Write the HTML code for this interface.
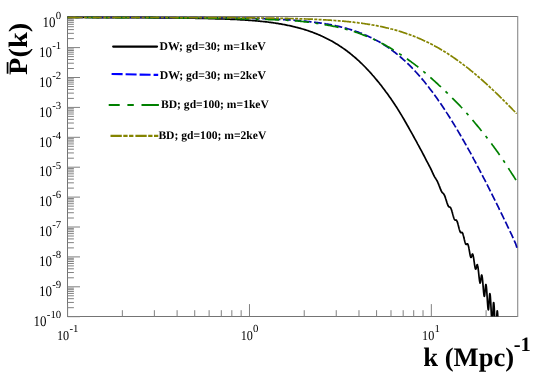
<!DOCTYPE html>
<html><head><meta charset="utf-8"><title>plot</title>
<style>
html,body{margin:0;padding:0;background:#fff;}
svg{display:block;will-change:transform;text-rendering:geometricPrecision;font-family:"Liberation Serif",serif;}
.lb{font-size:14.2px;fill:#000;}
.sp{font-size:10.8px;fill:#000;}
.lg{font-size:11.7px;font-weight:bold;fill:#000;}
.cv{fill:none;stroke-width:1.7;stroke-linejoin:round;}
</style></head><body>
<svg width="554" height="378" viewBox="0 0 554 378">
<rect width="554" height="378" fill="#fff"/>
<g style="filter:grayscale(0)">
<defs><clipPath id="c"><rect x="66.6" y="15.5" width="451.5" height="301.0"/></clipPath></defs>
<path d="M67.5,16H67.5V317M67,16.5H518M67,316.5H518" stroke="#747474" stroke-width="1" fill="none"/>
<path d="M517.7,16V317" stroke="#8e8e8e" stroke-width="1.15" fill="none"/>
<path d="M67.6,17.70h12.4M67.6,38.60h6.3M67.6,33.33h6.3M67.6,29.60h6.3M67.6,26.70h6.3M67.6,24.33h6.3M67.6,22.33h6.3M67.6,20.60h6.3M67.6,19.07h6.3M67.6,47.60h12.4M67.6,68.50h6.3M67.6,63.23h6.3M67.6,59.50h6.3M67.6,56.60h6.3M67.6,54.23h6.3M67.6,52.23h6.3M67.6,50.50h6.3M67.6,48.97h6.3M67.6,77.50h12.4M67.6,98.40h6.3M67.6,93.13h6.3M67.6,89.40h6.3M67.6,86.50h6.3M67.6,84.13h6.3M67.6,82.13h6.3M67.6,80.40h6.3M67.6,78.87h6.3M67.6,107.40h12.4M67.6,128.30h6.3M67.6,123.03h6.3M67.6,119.30h6.3M67.6,116.40h6.3M67.6,114.03h6.3M67.6,112.03h6.3M67.6,110.30h6.3M67.6,108.77h6.3M67.6,137.30h12.4M67.6,158.20h6.3M67.6,152.93h6.3M67.6,149.20h6.3M67.6,146.30h6.3M67.6,143.93h6.3M67.6,141.93h6.3M67.6,140.20h6.3M67.6,138.67h6.3M67.6,167.20h12.4M67.6,188.10h6.3M67.6,182.83h6.3M67.6,179.10h6.3M67.6,176.20h6.3M67.6,173.83h6.3M67.6,171.83h6.3M67.6,170.10h6.3M67.6,168.57h6.3M67.6,197.10h12.4M67.6,218.00h6.3M67.6,212.73h6.3M67.6,209.00h6.3M67.6,206.10h6.3M67.6,203.73h6.3M67.6,201.73h6.3M67.6,200.00h6.3M67.6,198.47h6.3M67.6,227.00h12.4M67.6,247.90h6.3M67.6,242.63h6.3M67.6,238.90h6.3M67.6,236.00h6.3M67.6,233.63h6.3M67.6,231.63h6.3M67.6,229.90h6.3M67.6,228.37h6.3M67.6,256.90h12.4M67.6,277.80h6.3M67.6,272.53h6.3M67.6,268.80h6.3M67.6,265.90h6.3M67.6,263.53h6.3M67.6,261.53h6.3M67.6,259.80h6.3M67.6,258.27h6.3M67.6,286.80h12.4M67.6,307.70h6.3M67.6,302.43h6.3M67.6,298.70h6.3M67.6,295.80h6.3M67.6,293.43h6.3M67.6,291.43h6.3M67.6,289.70h6.3M67.6,288.17h6.3M67.6,316.70h12.4M67.60,316.5v-12.4M122.35,316.5v-6.3M154.37,316.5v-6.3M177.10,316.5v-6.3M194.72,316.5v-6.3M209.12,316.5v-6.3M221.30,316.5v-6.3M231.84,316.5v-6.3M241.15,316.5v-6.3M249.47,316.5v-12.4M304.22,316.5v-6.3M336.24,316.5v-6.3M358.97,316.5v-6.3M376.59,316.5v-6.3M390.99,316.5v-6.3M403.17,316.5v-6.3M413.71,316.5v-6.3M423.02,316.5v-6.3M431.34,316.5v-12.4M486.09,316.5v-6.3" stroke="#808080" stroke-width="1" fill="none"/>
<g clip-path="url(#c)">
<path class="cv" stroke="#000" d="M67.6,17.5 L68.6,17.5 L69.6,17.5 L70.6,17.5 L71.6,17.5 L72.6,17.5 L73.6,17.5 L74.6,17.5 L75.6,17.5 L76.6,17.5 L77.6,17.5 L78.6,17.5 L79.6,17.5 L80.6,17.5 L81.6,17.5 L82.6,17.5 L83.6,17.5 L84.6,17.5 L85.6,17.5 L86.6,17.5 L87.6,17.5 L88.6,17.5 L89.6,17.5 L90.6,17.5 L91.6,17.5 L92.6,17.6 L93.6,17.6 L94.6,17.6 L95.6,17.6 L96.6,17.6 L97.6,17.6 L98.6,17.6 L99.6,17.6 L100.6,17.6 L101.6,17.6 L102.6,17.6 L103.6,17.6 L104.6,17.6 L105.6,17.6 L106.6,17.6 L107.6,17.6 L108.6,17.6 L109.6,17.6 L110.6,17.6 L111.6,17.6 L112.6,17.6 L113.6,17.6 L114.6,17.6 L115.6,17.6 L116.6,17.6 L117.6,17.6 L118.6,17.6 L119.6,17.6 L120.6,17.6 L121.6,17.6 L122.6,17.6 L123.6,17.6 L124.6,17.6 L125.6,17.6 L126.6,17.6 L127.6,17.6 L128.6,17.6 L129.6,17.6 L130.6,17.6 L131.6,17.6 L132.6,17.6 L133.6,17.6 L134.6,17.7 L135.6,17.7 L136.6,17.7 L137.6,17.7 L138.6,17.7 L139.6,17.7 L140.6,17.7 L141.6,17.7 L142.6,17.7 L143.6,17.7 L144.6,17.7 L145.6,17.7 L146.6,17.7 L147.6,17.7 L148.6,17.7 L149.6,17.7 L150.6,17.7 L151.6,17.7 L152.6,17.7 L153.6,17.8 L154.6,17.8 L155.6,17.8 L156.6,17.8 L157.6,17.8 L158.6,17.8 L159.6,17.8 L160.6,17.8 L161.6,17.8 L162.6,17.8 L163.6,17.8 L164.6,17.8 L165.6,17.8 L166.6,17.9 L167.6,17.9 L168.6,17.9 L169.6,17.9 L170.6,17.9 L171.6,17.9 L172.6,17.9 L173.6,17.9 L174.6,17.9 L175.6,18.0 L176.6,18.0 L177.6,18.0 L178.6,18.0 L179.6,18.0 L180.6,18.0 L181.6,18.0 L182.6,18.0 L183.6,18.1 L184.6,18.1 L185.6,18.1 L186.6,18.1 L187.6,18.1 L188.6,18.1 L189.6,18.2 L190.6,18.2 L191.6,18.2 L192.6,18.2 L193.6,18.2 L194.6,18.2 L195.6,18.3 L196.6,18.3 L197.6,18.3 L198.6,18.3 L199.6,18.4 L200.6,18.4 L201.6,18.4 L202.6,18.4 L203.6,18.4 L204.6,18.5 L205.6,18.5 L206.6,18.5 L207.6,18.5 L208.6,18.6 L209.6,18.6 L210.6,18.6 L211.6,18.6 L212.6,18.7 L213.6,18.7 L214.6,18.7 L215.6,18.8 L216.6,18.8 L217.6,18.8 L218.6,18.8 L219.6,18.9 L220.6,18.9 L221.6,18.9 L222.6,19.0 L223.6,19.0 L224.6,19.0 L225.6,19.1 L226.6,19.1 L227.6,19.2 L228.6,19.2 L229.6,19.2 L230.6,19.3 L231.6,19.3 L232.6,19.4 L233.6,19.4 L234.6,19.4 L235.6,19.5 L236.6,19.5 L237.6,19.6 L238.6,19.6 L239.6,19.7 L240.6,19.8 L241.6,19.8 L242.6,19.9 L243.6,19.9 L244.6,20.0 L245.6,20.1 L246.6,20.1 L247.6,20.2 L248.6,20.3 L249.6,20.3 L250.6,20.4 L251.6,20.5 L252.6,20.6 L253.6,20.6 L254.6,20.7 L255.6,20.8 L256.6,20.9 L257.6,21.0 L258.6,21.1 L259.6,21.2 L260.6,21.3 L261.6,21.4 L262.6,21.5 L263.6,21.6 L264.6,21.7 L265.6,21.8 L266.6,21.9 L267.6,22.0 L268.6,22.2 L269.6,22.3 L270.6,22.4 L271.6,22.6 L272.6,22.7 L273.6,22.8 L274.6,23.0 L275.6,23.1 L276.6,23.3 L277.6,23.4 L278.6,23.6 L279.6,23.8 L280.6,23.9 L281.6,24.1 L282.6,24.3 L283.6,24.5 L284.6,24.7 L285.6,24.9 L286.6,25.1 L287.6,25.3 L288.6,25.5 L289.6,25.7 L290.6,25.9 L291.6,26.1 L292.6,26.4 L293.6,26.6 L294.6,26.8 L295.6,27.1 L296.6,27.3 L297.6,27.6 L298.6,27.9 L299.6,28.1 L300.6,28.4 L301.6,28.7 L302.6,29.0 L303.6,29.3 L304.6,29.6 L305.6,29.9 L306.6,30.2 L307.6,30.5 L308.6,30.9 L309.6,31.2 L310.6,31.6 L311.6,31.9 L312.6,32.3 L313.6,32.7 L314.6,33.1 L315.6,33.5 L316.6,33.9 L317.6,34.3 L318.6,34.7 L319.6,35.1 L320.6,35.6 L321.6,36.0 L322.6,36.5 L323.6,36.9 L324.6,37.4 L325.6,37.9 L326.6,38.4 L327.6,38.9 L328.6,39.4 L329.6,40.0 L330.6,40.5 L331.6,41.0 L332.6,41.6 L333.6,42.2 L334.6,42.8 L335.6,43.4 L336.6,44.0 L337.6,44.6 L338.6,45.2 L339.6,45.9 L340.6,46.5 L341.6,47.2 L342.6,47.9 L343.6,48.6 L344.6,49.3 L345.6,50.0 L346.6,50.7 L347.6,51.5 L348.6,52.3 L349.6,53.0 L350.6,53.8 L351.6,54.6 L352.6,55.5 L353.6,56.3 L354.6,57.1 L355.6,58.0 L356.6,58.9 L357.6,59.8 L358.6,60.7 L359.6,61.6 L360.6,62.6 L361.6,63.5 L362.6,64.5 L363.6,65.5 L364.6,66.5 L365.6,67.5 L366.6,68.6 L367.6,69.6 L368.6,70.7 L369.6,71.8 L370.6,72.9 L371.6,74.0 L372.6,75.2 L373.6,76.3 L374.6,77.5 L375.6,78.7 L376.6,79.9 L377.6,81.1 L378.6,82.3 L379.6,83.6 L380.6,84.8 L381.6,86.1 L382.6,87.4 L383.6,88.7 L384.6,90.0 L385.6,91.4 L386.6,92.7 L387.6,94.1 L388.6,95.5 L389.6,96.9 L390.6,98.3 L391.6,99.8 L392.6,101.2 L393.6,102.7 L394.6,104.2 L395.6,105.8 L396.6,107.3 L397.6,108.9 L398.6,110.5 L399.6,112.1 L400.6,113.8 L401.6,115.4 L402.6,117.1 L403.6,118.8 L404.6,120.5 L405.6,122.3 L406.6,124.0 L407.6,125.8 L408.6,127.5 L409.6,129.3 L410.6,131.1 L411.6,132.9 L412.6,134.7 L413.6,136.5 L414.6,138.3 L415.6,140.1 L416.6,141.9 L417.6,143.8 L418.6,145.6 L419.6,147.5 L420.6,149.3 L421.6,151.2 L422.6,153.1 L423.6,155.0 L424.6,156.9 L425.6,158.8 L426.6,160.8 L427.6,162.7 L428.6,164.6 L429.6,166.5 L430.0,167.2 L430.1,167.4 L430.2,167.6 L430.3,167.8 L430.4,168.0 L430.5,168.2 L430.6,168.5 L430.7,168.7 L430.8,168.9 L430.9,169.1 L431.0,169.3 L431.1,169.5 L431.2,169.7 L431.3,169.9 L431.4,170.1 L431.5,170.4 L431.6,170.6 L431.7,170.8 L431.8,171.0 L431.9,171.2 L432.0,171.4 L432.1,171.7 L432.2,171.9 L432.3,172.1 L432.4,172.3 L432.5,172.5 L432.6,172.8 L432.7,173.0 L432.8,173.2 L432.9,173.4 L433.0,173.6 L433.1,173.9 L433.2,174.1 L433.3,174.3 L433.4,174.5 L433.5,174.7 L433.6,174.9 L433.7,175.1 L433.8,175.3 L433.9,175.5 L434.0,175.7 L434.1,175.9 L434.2,176.1 L434.3,176.3 L434.4,176.5 L434.5,176.7 L434.6,176.8 L434.7,177.0 L434.8,177.2 L434.9,177.3 L435.0,177.5 L435.1,177.6 L435.2,177.8 L435.3,177.9 L435.4,178.1 L435.5,178.2 L435.6,178.4 L435.7,178.5 L435.8,178.7 L435.9,178.8 L436.0,179.0 L436.1,179.2 L436.2,179.3 L436.3,179.5 L436.4,179.6 L436.5,179.8 L436.6,180.0 L436.7,180.1 L436.8,180.3 L436.9,180.5 L437.0,180.7 L437.1,180.9 L437.2,181.1 L437.3,181.3 L437.4,181.5 L437.5,181.7 L437.6,181.9 L437.7,182.1 L437.8,182.4 L437.9,182.6 L438.0,182.8 L438.1,183.1 L438.2,183.3 L438.3,183.5 L438.4,183.8 L438.5,184.0 L438.6,184.3 L438.7,184.5 L438.8,184.8 L438.9,185.0 L439.0,185.3 L439.1,185.6 L439.2,185.8 L439.3,186.1 L439.4,186.4 L439.5,186.6 L439.6,186.9 L439.7,187.2 L439.8,187.4 L439.9,187.7 L440.0,187.9 L440.1,188.2 L440.2,188.5 L440.3,188.7 L440.4,189.0 L440.5,189.2 L440.6,189.5 L440.7,189.7 L440.8,189.9 L440.9,190.2 L441.0,190.4 L441.1,190.6 L441.2,190.8 L441.3,191.0 L441.4,191.2 L441.5,191.4 L441.6,191.6 L441.7,191.8 L441.8,191.9 L441.9,192.1 L442.0,192.2 L442.1,192.3 L442.2,192.4 L442.3,192.6 L442.4,192.7 L442.5,192.8 L442.6,192.9 L442.7,193.0 L442.8,193.0 L442.9,193.1 L443.0,193.2 L443.1,193.3 L443.2,193.4 L443.3,193.5 L443.4,193.6 L443.5,193.7 L443.6,193.9 L443.7,194.0 L443.8,194.1 L443.9,194.3 L444.0,194.4 L444.1,194.6 L444.2,194.8 L444.3,195.0 L444.4,195.2 L444.5,195.4 L444.6,195.7 L444.7,195.9 L444.8,196.1 L444.9,196.4 L445.0,196.6 L445.1,196.9 L445.2,197.2 L445.3,197.5 L445.4,197.8 L445.5,198.0 L445.6,198.3 L445.7,198.7 L445.8,199.0 L445.9,199.3 L446.0,199.6 L446.1,199.9 L446.2,200.2 L446.3,200.6 L446.4,200.9 L446.5,201.2 L446.6,201.5 L446.7,201.8 L446.8,202.2 L446.9,202.5 L447.0,202.8 L447.1,203.1 L447.2,203.4 L447.3,203.7 L447.4,204.0 L447.5,204.2 L447.6,204.5 L447.7,204.8 L447.8,205.0 L447.9,205.2 L448.0,205.5 L448.1,205.7 L448.2,205.9 L448.3,206.1 L448.4,206.2 L448.5,206.3 L448.6,206.5 L448.7,206.6 L448.8,206.7 L448.9,206.7 L449.0,206.8 L449.1,206.8 L449.2,206.9 L449.3,206.9 L449.4,206.9 L449.5,207.0 L449.6,207.0 L449.7,207.0 L449.8,207.1 L449.9,207.1 L450.0,207.1 L450.1,207.2 L450.2,207.3 L450.3,207.4 L450.4,207.5 L450.5,207.6 L450.6,207.8 L450.7,207.9 L450.8,208.1 L450.9,208.4 L451.0,208.6 L451.1,208.8 L451.2,209.1 L451.3,209.3 L451.4,209.6 L451.5,209.9 L451.6,210.2 L451.7,210.5 L451.8,210.8 L451.9,211.2 L452.0,211.5 L452.1,211.8 L452.2,212.2 L452.3,212.6 L452.4,212.9 L452.5,213.3 L452.6,213.7 L452.7,214.0 L452.8,214.4 L452.9,214.8 L453.0,215.1 L453.1,215.5 L453.2,215.8 L453.3,216.2 L453.4,216.5 L453.5,216.8 L453.6,217.2 L453.7,217.5 L453.8,217.8 L453.9,218.0 L454.0,218.3 L454.1,218.6 L454.2,218.8 L454.3,219.1 L454.4,219.3 L454.5,219.4 L454.6,219.6 L454.7,219.7 L454.8,219.9 L454.9,219.9 L455.0,220.0 L455.1,220.1 L455.2,220.1 L455.3,220.1 L455.4,220.1 L455.5,220.1 L455.6,220.1 L455.7,220.1 L455.8,220.1 L455.9,220.1 L456.0,220.1 L456.1,220.1 L456.2,220.1 L456.3,220.2 L456.4,220.2 L456.5,220.3 L456.6,220.5 L456.7,220.6 L456.8,220.8 L456.9,221.0 L457.0,221.2 L457.1,221.4 L457.2,221.7 L457.3,222.0 L457.4,222.2 L457.5,222.6 L457.6,222.9 L457.7,223.2 L457.8,223.5 L457.9,223.9 L458.0,224.3 L458.1,224.6 L458.2,225.0 L458.3,225.4 L458.4,225.8 L458.5,226.2 L458.6,226.6 L458.7,227.0 L458.8,227.4 L458.9,227.8 L459.0,228.2 L459.1,228.5 L459.2,228.9 L459.3,229.3 L459.4,229.6 L459.5,230.0 L459.6,230.3 L459.7,230.6 L459.8,230.9 L459.9,231.2 L460.0,231.4 L460.1,231.7 L460.2,231.9 L460.3,232.1 L460.4,232.2 L460.5,232.4 L460.6,232.5 L460.7,232.5 L460.8,232.6 L460.9,232.6 L461.0,232.6 L461.1,232.6 L461.2,232.6 L461.3,232.5 L461.4,232.5 L461.5,232.5 L461.6,232.4 L461.7,232.4 L461.8,232.4 L461.9,232.4 L462.0,232.4 L462.1,232.5 L462.2,232.6 L462.3,232.7 L462.4,232.8 L462.5,233.0 L462.6,233.2 L462.7,233.5 L462.8,233.7 L462.9,234.0 L463.0,234.3 L463.1,234.6 L463.2,235.0 L463.3,235.3 L463.4,235.7 L463.5,236.0 L463.6,236.4 L463.7,236.8 L463.8,237.3 L463.9,237.7 L464.0,238.1 L464.1,238.5 L464.2,238.9 L464.3,239.4 L464.4,239.8 L464.5,240.2 L464.6,240.6 L464.7,241.0 L464.8,241.4 L464.9,241.8 L465.0,242.1 L465.1,242.5 L465.2,242.8 L465.3,243.1 L465.4,243.4 L465.5,243.6 L465.6,243.9 L465.7,244.1 L465.8,244.2 L465.9,244.4 L466.0,244.4 L466.1,244.5 L466.2,244.5 L466.3,244.5 L466.4,244.5 L466.5,244.4 L466.6,244.4 L466.7,244.3 L466.8,244.2 L466.9,244.1 L467.0,244.0 L467.1,243.9 L467.2,243.9 L467.3,243.8 L467.4,243.8 L467.5,243.9 L467.6,243.9 L467.7,244.0 L467.8,244.2 L467.9,244.4 L468.0,244.6 L468.1,244.9 L468.2,245.2 L468.3,245.5 L468.4,245.9 L468.5,246.3 L468.6,246.7 L468.7,247.1 L468.8,247.6 L468.9,248.1 L469.0,248.7 L469.1,249.2 L469.2,249.8 L469.3,250.3 L469.4,250.9 L469.5,251.5 L469.6,252.1 L469.7,252.7 L469.8,253.3 L469.9,253.8 L470.0,254.3 L470.1,254.8 L470.2,255.3 L470.3,255.8 L470.4,256.2 L470.5,256.5 L470.6,256.8 L470.7,257.1 L470.8,257.3 L470.9,257.4 L471.0,257.4 L471.1,257.4 L471.2,257.3 L471.3,257.1 L471.4,256.9 L471.5,256.6 L471.6,256.3 L471.7,255.9 L471.8,255.6 L471.9,255.3 L472.0,254.9 L472.1,254.7 L472.2,254.4 L472.3,254.2 L472.4,254.1 L472.5,254.0 L472.6,254.1 L472.7,254.2 L472.8,254.4 L472.9,254.7 L473.0,255.0 L473.1,255.4 L473.2,255.8 L473.3,256.3 L473.4,256.8 L473.5,257.3 L473.6,257.9 L473.7,258.6 L473.8,259.2 L473.9,259.9 L474.0,260.6 L474.1,261.3 L474.2,262.0 L474.3,262.7 L474.4,263.4 L474.5,264.1 L474.6,264.8 L474.7,265.4 L474.8,266.1 L474.9,266.6 L475.0,267.2 L475.1,267.6 L475.2,268.1 L475.3,268.4 L475.4,268.8 L475.5,269.0 L475.6,269.2 L475.7,269.2 L475.8,269.2 L475.9,269.0 L476.0,268.8 L476.1,268.5 L476.2,268.1 L476.3,267.7 L476.4,267.3 L476.5,266.8 L476.6,266.4 L476.7,265.9 L476.8,265.5 L476.9,265.2 L477.0,264.9 L477.1,264.7 L477.2,264.7 L477.3,264.7 L477.4,264.8 L477.5,265.1 L477.6,265.4 L477.7,265.9 L477.8,266.3 L477.9,266.9 L478.0,267.5 L478.1,268.2 L478.2,269.0 L478.3,269.8 L478.4,270.6 L478.5,271.5 L478.6,272.5 L478.7,273.4 L478.8,274.4 L478.9,275.3 L479.0,276.3 L479.1,277.2 L479.2,278.1 L479.3,278.9 L479.4,279.7 L479.5,280.5 L479.6,281.1 L479.7,281.7 L479.8,282.2 L479.9,282.6 L480.0,282.9 L480.1,283.1 L480.2,283.0 L480.3,282.8 L480.4,282.5 L480.5,282.0 L480.6,281.5 L480.7,280.8 L480.8,280.0 L480.9,279.2 L481.0,278.4 L481.1,277.7 L481.2,276.9 L481.3,276.3 L481.4,275.7 L481.5,275.3 L481.6,275.1 L481.7,275.0 L481.8,275.1 L481.9,275.4 L482.0,275.8 L482.1,276.3 L482.2,276.9 L482.3,277.6 L482.4,278.4 L482.5,279.3 L482.6,280.3 L482.7,281.4 L482.8,282.5 L482.9,283.7 L483.0,284.9 L483.1,286.1 L483.2,287.3 L483.3,288.5 L483.4,289.7 L483.5,290.8 L483.6,291.9 L483.7,292.8 L483.8,293.7 L483.9,294.5 L484.0,295.1 L484.1,295.7 L484.2,296.1 L484.3,296.3 L484.4,296.3 L484.5,296.0 L484.6,295.5 L484.7,294.9 L484.8,294.0 L484.9,293.0 L485.0,291.9 L485.1,290.7 L485.2,289.5 L485.3,288.4 L485.4,287.3 L485.5,286.4 L485.6,285.6 L485.7,285.0 L485.8,284.6 L485.9,284.5 L486.0,284.7 L486.1,285.0 L486.2,285.6 L486.3,286.2 L486.4,287.1 L486.5,288.1 L486.6,289.2 L486.7,290.4 L486.8,291.8 L486.9,293.2 L487.0,294.7 L487.1,296.3 L487.2,297.8 L487.3,299.4 L487.4,301.0 L487.5,302.4 L487.6,303.8 L487.7,305.2 L487.8,306.3 L487.9,307.4 L488.0,308.3 L488.1,309.0 L488.2,309.5 L488.3,309.8 L488.4,309.8 L488.5,309.5 L488.6,308.8 L488.7,307.8 L488.8,306.6 L488.9,305.2 L489.0,303.6 L489.1,302.0 L489.2,300.3 L489.3,298.7 L489.4,297.3 L489.5,296.0 L489.6,294.9 L489.7,294.2 L489.8,293.7 L489.9,293.7 L490.0,294.0 L490.1,294.5 L490.2,295.2 L490.3,296.2 L490.4,297.3 L490.5,298.7 L490.6,300.2 L490.7,301.9 L490.8,303.6 L490.9,305.5 L491.0,307.4 L491.1,309.4 L491.2,311.3 L491.3,313.2 L491.4,315.0 L491.5,316.7 L491.6,318.3 L491.7,319.6 L491.8,320.8 L491.9,321.8 L492.0,322.5 L492.1,322.9 L492.2,323.0 L492.3,322.6 L492.4,321.8 L492.5,320.6 L492.6,319.0 L492.7,317.2 L492.8,315.2 L492.9,313.0 L493.0,310.9 L493.1,308.8 L493.2,306.8 L493.3,305.2 L493.4,303.8 L493.5,302.9 L493.6,302.5 L493.7,302.5 L493.8,302.9 L493.9,303.6 L494.0,304.6 L494.1,305.9 L494.2,307.4 L494.3,309.2 L494.4,311.1 L494.5,313.2 L494.6,315.5 L494.7,317.8 L494.8,320.2 L494.9,322.5 L495.0,324.8 L495.1,327.0 L496.4,327.0 L496.5,324.4 L496.6,321.6 L496.7,319.0 L496.8,316.5 L496.9,314.3 L497.0,312.6 L497.1,311.4 L497.2,310.8 L497.3,310.8 L497.4,311.3 L497.5,312.2 L497.6,313.4 L497.7,315.0 L497.8,316.8 L497.9,319.0 L498.0,321.4 L498.1,324.0 L498.2,326.7 L500.2,327.2 L500.3,324.3 L500.4,321.9 L500.5,320.1 L500.6,319.0 L500.7,318.7 L500.8,319.1 L500.9,319.9 L501.0,321.2 L501.1,322.9 L501.2,325.0 L501.3,327.5 L503.8,328.0 L503.9,326.7 L504.0,326.3 L504.1,326.8 L504.2,327.8"/>
<path class="cv" stroke="#0505aa" stroke-dasharray="7.8 2.6" stroke-dashoffset="-7.53" d="M67.6,17.5 L68.6,17.5 L69.6,17.5 L70.6,17.5 L71.6,17.5 L72.6,17.5 L73.6,17.5 L74.6,17.5 L75.6,17.5 L76.6,17.5 L77.6,17.5 L78.6,17.5 L79.6,17.5 L80.6,17.5 L81.6,17.5 L82.6,17.5 L83.6,17.5 L84.6,17.5 L85.6,17.5 L86.6,17.5 L87.6,17.5 L88.6,17.5 L89.6,17.5 L90.6,17.5 L91.6,17.5 L92.6,17.5 L93.6,17.5 L94.6,17.5 L95.6,17.5 L96.6,17.5 L97.6,17.5 L98.6,17.5 L99.6,17.5 L100.6,17.5 L101.6,17.5 L102.6,17.5 L103.6,17.5 L104.6,17.5 L105.6,17.5 L106.6,17.5 L107.6,17.5 L108.6,17.5 L109.6,17.5 L110.6,17.5 L111.6,17.5 L112.6,17.5 L113.6,17.5 L114.6,17.5 L115.6,17.5 L116.6,17.5 L117.6,17.5 L118.6,17.5 L119.6,17.5 L120.6,17.5 L121.6,17.5 L122.6,17.5 L123.6,17.5 L124.6,17.5 L125.6,17.5 L126.6,17.5 L127.6,17.5 L128.6,17.5 L129.6,17.5 L130.6,17.5 L131.6,17.5 L132.6,17.5 L133.6,17.5 L134.6,17.5 L135.6,17.5 L136.6,17.5 L137.6,17.5 L138.6,17.5 L139.6,17.5 L140.6,17.5 L141.6,17.5 L142.6,17.5 L143.6,17.5 L144.6,17.5 L145.6,17.5 L146.6,17.6 L147.6,17.6 L148.6,17.6 L149.6,17.6 L150.6,17.6 L151.6,17.6 L152.6,17.6 L153.6,17.6 L154.6,17.6 L155.6,17.6 L156.6,17.6 L157.6,17.6 L158.6,17.6 L159.6,17.6 L160.6,17.6 L161.6,17.6 L162.6,17.6 L163.6,17.6 L164.6,17.6 L165.6,17.6 L166.6,17.6 L167.6,17.6 L168.6,17.6 L169.6,17.6 L170.6,17.6 L171.6,17.6 L172.6,17.6 L173.6,17.6 L174.6,17.6 L175.6,17.6 L176.6,17.6 L177.6,17.6 L178.6,17.6 L179.6,17.6 L180.6,17.6 L181.6,17.6 L182.6,17.6 L183.6,17.6 L184.6,17.6 L185.6,17.6 L186.6,17.7 L187.6,17.7 L188.6,17.7 L189.6,17.7 L190.6,17.7 L191.6,17.7 L192.6,17.7 L193.6,17.7 L194.6,17.7 L195.6,17.7 L196.6,17.7 L197.6,17.7 L198.6,17.7 L199.6,17.7 L200.6,17.7 L201.6,17.7 L202.6,17.7 L203.6,17.7 L204.6,17.7 L205.6,17.8 L206.6,17.8 L207.6,17.8 L208.6,17.8 L209.6,17.8 L210.6,17.8 L211.6,17.8 L212.6,17.8 L213.6,17.8 L214.6,17.8 L215.6,17.8 L216.6,17.8 L217.6,17.9 L218.6,17.9 L219.6,17.9 L220.6,17.9 L221.6,17.9 L222.6,17.9 L223.6,17.9 L224.6,17.9 L225.6,17.9 L226.6,17.9 L227.6,18.0 L228.6,18.0 L229.6,18.0 L230.6,18.0 L231.6,18.0 L232.6,18.0 L233.6,18.0 L234.6,18.1 L235.6,18.1 L236.6,18.1 L237.6,18.1 L238.6,18.1 L239.6,18.1 L240.6,18.2 L241.6,18.2 L242.6,18.2 L243.6,18.2 L244.6,18.2 L245.6,18.2 L246.6,18.3 L247.6,18.3 L248.6,18.3 L249.6,18.3 L250.6,18.4 L251.6,18.4 L252.6,18.4 L253.6,18.4 L254.6,18.5 L255.6,18.5 L256.6,18.5 L257.6,18.5 L258.6,18.6 L259.6,18.6 L260.6,18.6 L261.6,18.7 L262.6,18.7 L263.6,18.7 L264.6,18.7 L265.6,18.8 L266.6,18.8 L267.6,18.9 L268.6,18.9 L269.6,18.9 L270.6,19.0 L271.6,19.0 L272.6,19.0 L273.6,19.1 L274.6,19.1 L275.6,19.2 L276.6,19.2 L277.6,19.3 L278.6,19.3 L279.6,19.4 L280.6,19.4 L281.6,19.5 L282.6,19.5 L283.6,19.6 L284.6,19.6 L285.6,19.7 L286.6,19.8 L287.6,19.8 L288.6,19.9 L289.6,19.9 L290.6,20.0 L291.6,20.1 L292.6,20.2 L293.6,20.2 L294.6,20.3 L295.6,20.4 L296.6,20.4 L297.6,20.5 L298.6,20.6 L299.6,20.7 L300.6,20.8 L301.6,20.9 L302.6,21.0 L303.6,21.1 L304.6,21.1 L305.6,21.2 L306.6,21.3 L307.6,21.5 L308.6,21.6 L309.6,21.7 L310.6,21.8 L311.6,21.9 L312.6,22.0 L313.6,22.1 L314.6,22.3 L315.6,22.4 L316.6,22.5 L317.6,22.6 L318.6,22.8 L319.6,22.9 L320.6,23.1 L321.6,23.2 L322.6,23.4 L323.6,23.5 L324.6,23.7 L325.6,23.9 L326.6,24.0 L327.6,24.2 L328.6,24.4 L329.6,24.6 L330.6,24.7 L331.6,24.9 L332.6,25.1 L333.6,25.3 L334.6,25.5 L335.6,25.7 L336.6,26.0 L337.6,26.2 L338.6,26.4 L339.6,26.6 L340.6,26.9 L341.6,27.1 L342.6,27.4 L343.6,27.6 L344.6,27.9 L345.6,28.2 L346.6,28.4 L347.6,28.7 L348.6,29.0 L349.6,29.3 L350.6,29.6 L351.6,29.9 L352.6,30.2 L353.6,30.6 L354.6,30.9 L355.6,31.2 L356.6,31.6 L357.6,31.9 L358.6,32.3 L359.6,32.7 L360.6,33.0 L361.6,33.4 L362.6,33.8 L363.6,34.2 L364.6,34.7 L365.6,35.1 L366.6,35.5 L367.6,36.0 L368.6,36.4 L369.6,36.9 L370.6,37.4 L371.6,37.8 L372.6,38.3 L373.6,38.8 L374.6,39.4 L375.6,39.9 L376.6,40.4 L377.6,41.0 L378.6,41.5 L379.6,42.1 L380.6,42.7 L381.6,43.3 L382.6,43.9 L383.6,44.5 L384.6,45.2 L385.6,45.8 L386.6,46.5 L387.6,47.1 L388.6,47.8 L389.6,48.5 L390.6,49.2 L391.6,50.0 L392.6,50.7 L393.6,51.5 L394.6,52.2 L395.6,53.0 L396.6,53.8 L397.6,54.6 L398.6,55.4 L399.6,56.3 L400.6,57.1 L401.6,58.0 L402.6,58.9 L403.6,59.8 L404.6,60.7 L405.6,61.6 L406.6,62.5 L407.6,63.5 L408.6,64.4 L409.6,65.4 L410.6,66.4 L411.6,67.4 L412.6,68.5 L413.6,69.5 L414.6,70.6 L415.6,71.7 L416.6,72.8 L417.6,73.9 L418.6,75.0 L419.6,76.1 L420.6,77.3 L421.6,78.4 L422.6,79.6 L423.6,80.8 L424.6,82.0 L425.6,83.3 L426.6,84.5 L427.6,85.8 L428.6,87.1 L429.6,88.4 L430.6,89.7 L431.6,91.0 L432.6,92.3 L433.6,93.7 L434.6,95.0 L435.6,96.4 L436.6,97.8 L437.6,99.2 L438.6,100.7 L439.6,102.1 L440.6,103.6 L441.6,105.0 L442.6,106.5 L443.6,108.0 L444.6,109.5 L445.6,111.0 L446.6,112.6 L447.6,114.1 L448.6,115.7 L449.6,117.3 L450.6,118.9 L451.6,120.5 L452.6,122.1 L453.6,123.7 L454.6,125.4 L455.6,127.0 L456.6,128.7 L457.6,130.4 L458.6,132.1 L459.6,133.8 L460.6,135.5 L461.6,137.2 L462.6,139.0 L463.6,140.7 L464.6,142.5 L465.6,144.2 L466.6,146.0 L467.6,147.8 L468.6,149.6 L469.6,151.4 L470.6,153.2 L471.6,155.1 L472.6,156.9 L473.6,158.8 L474.6,160.6 L475.6,162.5 L476.6,164.4 L477.6,166.3 L478.6,168.2 L479.6,170.1 L480.6,172.0 L481.6,173.9 L482.6,175.8 L483.6,177.8 L484.6,179.7 L485.6,181.7 L486.6,183.6 L487.6,185.6 L488.6,187.6 L489.6,189.6 L490.6,191.6 L491.6,193.6 L492.6,195.6 L493.6,197.6 L494.6,199.6 L495.6,201.6 L496.6,203.6 L497.6,205.7 L498.6,207.7 L499.6,209.8 L500.6,211.8 L501.6,213.9 L502.6,215.9 L503.6,218.0 L504.6,220.1 L505.6,222.2 L506.6,224.2 L507.6,226.3 L508.6,228.4 L509.6,230.5 L510.6,232.6 L511.6,234.7 L512.6,236.9 L513.6,239.0 L514.6,241.3 L515.6,243.6 L516.6,246.7 L517.4,249.6"/>
<path class="cv" stroke="#008000" stroke-dasharray="14.2 6.4 3 6.4" stroke-dashoffset="-17.47" d="M67.6,17.5 L68.6,17.5 L69.6,17.5 L70.6,17.5 L71.6,17.5 L72.6,17.5 L73.6,17.5 L74.6,17.5 L75.6,17.5 L76.6,17.5 L77.6,17.5 L78.6,17.5 L79.6,17.5 L80.6,17.5 L81.6,17.5 L82.6,17.5 L83.6,17.5 L84.6,17.5 L85.6,17.5 L86.6,17.5 L87.6,17.5 L88.6,17.5 L89.6,17.5 L90.6,17.5 L91.6,17.5 L92.6,17.5 L93.6,17.5 L94.6,17.5 L95.6,17.5 L96.6,17.5 L97.6,17.6 L98.6,17.6 L99.6,17.6 L100.6,17.6 L101.6,17.6 L102.6,17.6 L103.6,17.6 L104.6,17.6 L105.6,17.6 L106.6,17.6 L107.6,17.6 L108.6,17.6 L109.6,17.6 L110.6,17.6 L111.6,17.6 L112.6,17.6 L113.6,17.6 L114.6,17.6 L115.6,17.6 L116.6,17.6 L117.6,17.6 L118.6,17.6 L119.6,17.6 L120.6,17.6 L121.6,17.6 L122.6,17.6 L123.6,17.6 L124.6,17.6 L125.6,17.6 L126.6,17.6 L127.6,17.6 L128.6,17.6 L129.6,17.6 L130.6,17.6 L131.6,17.6 L132.6,17.6 L133.6,17.6 L134.6,17.6 L135.6,17.6 L136.6,17.6 L137.6,17.6 L138.6,17.6 L139.6,17.6 L140.6,17.6 L141.6,17.6 L142.6,17.6 L143.6,17.6 L144.6,17.6 L145.6,17.7 L146.6,17.7 L147.6,17.7 L148.6,17.7 L149.6,17.7 L150.6,17.7 L151.6,17.7 L152.6,17.7 L153.6,17.7 L154.6,17.7 L155.6,17.7 L156.6,17.7 L157.6,17.7 L158.6,17.7 L159.6,17.7 L160.6,17.7 L161.6,17.7 L162.6,17.7 L163.6,17.7 L164.6,17.7 L165.6,17.7 L166.6,17.7 L167.6,17.7 L168.6,17.8 L169.6,17.8 L170.6,17.8 L171.6,17.8 L172.6,17.8 L173.6,17.8 L174.6,17.8 L175.6,17.8 L176.6,17.8 L177.6,17.8 L178.6,17.8 L179.6,17.8 L180.6,17.8 L181.6,17.8 L182.6,17.8 L183.6,17.9 L184.6,17.9 L185.6,17.9 L186.6,17.9 L187.6,17.9 L188.6,17.9 L189.6,17.9 L190.6,17.9 L191.6,17.9 L192.6,17.9 L193.6,17.9 L194.6,18.0 L195.6,18.0 L196.6,18.0 L197.6,18.0 L198.6,18.0 L199.6,18.0 L200.6,18.0 L201.6,18.0 L202.6,18.0 L203.6,18.1 L204.6,18.1 L205.6,18.1 L206.6,18.1 L207.6,18.1 L208.6,18.1 L209.6,18.1 L210.6,18.2 L211.6,18.2 L212.6,18.2 L213.6,18.2 L214.6,18.2 L215.6,18.2 L216.6,18.2 L217.6,18.3 L218.6,18.3 L219.6,18.3 L220.6,18.3 L221.6,18.3 L222.6,18.4 L223.6,18.4 L224.6,18.4 L225.6,18.4 L226.6,18.4 L227.6,18.5 L228.6,18.5 L229.6,18.5 L230.6,18.5 L231.6,18.5 L232.6,18.6 L233.6,18.6 L234.6,18.6 L235.6,18.6 L236.6,18.7 L237.6,18.7 L238.6,18.7 L239.6,18.7 L240.6,18.8 L241.6,18.8 L242.6,18.8 L243.6,18.9 L244.6,18.9 L245.6,18.9 L246.6,19.0 L247.6,19.0 L248.6,19.0 L249.6,19.1 L250.6,19.1 L251.6,19.1 L252.6,19.2 L253.6,19.2 L254.6,19.2 L255.6,19.2 L256.6,19.3 L257.6,19.3 L258.6,19.3 L259.6,19.4 L260.6,19.4 L261.6,19.4 L262.6,19.4 L263.6,19.5 L264.6,19.5 L265.6,19.5 L266.6,19.5 L267.6,19.5 L268.6,19.6 L269.6,19.6 L270.6,19.6 L271.6,19.6 L272.6,19.7 L273.6,19.7 L274.6,19.7 L275.6,19.8 L276.6,19.8 L277.6,19.8 L278.6,19.9 L279.6,19.9 L280.6,19.9 L281.6,20.0 L282.6,20.0 L283.6,20.1 L284.6,20.1 L285.6,20.2 L286.6,20.2 L287.6,20.3 L288.6,20.3 L289.6,20.4 L290.6,20.5 L291.6,20.5 L292.6,20.6 L293.6,20.7 L294.6,20.8 L295.6,20.8 L296.6,20.9 L297.6,21.0 L298.6,21.1 L299.6,21.2 L300.6,21.3 L301.6,21.4 L302.6,21.5 L303.6,21.6 L304.6,21.8 L305.6,21.9 L306.6,22.0 L307.6,22.1 L308.6,22.2 L309.6,22.4 L310.6,22.5 L311.6,22.6 L312.6,22.8 L313.6,22.9 L314.6,23.0 L315.6,23.2 L316.6,23.3 L317.6,23.5 L318.6,23.6 L319.6,23.8 L320.6,23.9 L321.6,24.1 L322.6,24.3 L323.6,24.4 L324.6,24.6 L325.6,24.8 L326.6,24.9 L327.6,25.1 L328.6,25.3 L329.6,25.5 L330.6,25.7 L331.6,25.9 L332.6,26.1 L333.6,26.3 L334.6,26.5 L335.6,26.7 L336.6,26.9 L337.6,27.1 L338.6,27.4 L339.6,27.6 L340.6,27.8 L341.6,28.1 L342.6,28.3 L343.6,28.6 L344.6,28.8 L345.6,29.1 L346.6,29.4 L347.6,29.7 L348.6,29.9 L349.6,30.2 L350.6,30.5 L351.6,30.8 L352.6,31.2 L353.6,31.5 L354.6,31.8 L355.6,32.1 L356.6,32.5 L357.6,32.8 L358.6,33.2 L359.6,33.5 L360.6,33.9 L361.6,34.3 L362.6,34.7 L363.6,35.1 L364.6,35.5 L365.6,35.9 L366.6,36.3 L367.6,36.7 L368.6,37.1 L369.6,37.5 L370.6,38.0 L371.6,38.4 L372.6,38.8 L373.6,39.3 L374.6,39.8 L375.6,40.2 L376.6,40.7 L377.6,41.2 L378.6,41.7 L379.6,42.2 L380.6,42.7 L381.6,43.2 L382.6,43.7 L383.6,44.2 L384.6,44.8 L385.6,45.3 L386.6,45.9 L387.6,46.5 L388.6,47.0 L389.6,47.6 L390.6,48.2 L391.6,48.8 L392.6,49.4 L393.6,50.1 L394.6,50.7 L395.6,51.3 L396.6,51.9 L397.6,52.6 L398.6,53.2 L399.6,53.9 L400.6,54.5 L401.6,55.2 L402.6,55.9 L403.6,56.5 L404.6,57.2 L405.6,57.9 L406.6,58.6 L407.6,59.3 L408.6,60.0 L409.6,60.7 L410.6,61.4 L411.6,62.2 L412.6,62.9 L413.6,63.6 L414.6,64.4 L415.6,65.2 L416.6,65.9 L417.6,66.7 L418.6,67.5 L419.6,68.3 L420.6,69.1 L421.6,69.9 L422.6,70.8 L423.6,71.6 L424.6,72.4 L425.6,73.3 L426.6,74.1 L427.6,75.0 L428.6,75.9 L429.6,76.7 L430.6,77.6 L431.6,78.5 L432.6,79.4 L433.6,80.3 L434.6,81.2 L435.6,82.1 L436.6,83.0 L437.6,83.9 L438.6,84.9 L439.6,85.8 L440.6,86.7 L441.6,87.7 L442.6,88.6 L443.6,89.6 L444.6,90.5 L445.6,91.5 L446.6,92.4 L447.6,93.4 L448.6,94.4 L449.6,95.4 L450.6,96.4 L451.6,97.4 L452.6,98.4 L453.6,99.4 L454.6,100.4 L455.6,101.4 L456.6,102.4 L457.6,103.4 L458.6,104.4 L459.6,105.4 L460.6,106.5 L461.6,107.5 L462.6,108.6 L463.6,109.7 L464.6,110.8 L465.6,111.9 L466.6,113.1 L467.6,114.2 L468.6,115.4 L469.6,116.5 L470.6,117.7 L471.6,118.9 L472.6,120.1 L473.6,121.3 L474.6,122.5 L475.6,123.7 L476.6,124.9 L477.6,126.1 L478.6,127.3 L479.6,128.5 L480.6,129.8 L481.6,131.0 L482.6,132.3 L483.6,133.5 L484.6,134.8 L485.6,136.0 L486.6,137.3 L487.6,138.6 L488.6,139.9 L489.6,141.2 L490.6,142.5 L491.6,143.8 L492.6,145.2 L493.6,146.5 L494.6,147.9 L495.6,149.3 L496.6,150.7 L497.6,152.1 L498.6,153.5 L499.6,154.9 L500.6,156.3 L501.6,157.8 L502.6,159.3 L503.6,160.8 L504.6,162.3 L505.6,163.9 L506.6,165.4 L507.6,167.0 L508.6,168.5 L509.6,170.1 L510.6,171.6 L511.6,173.2 L512.6,174.7 L513.6,176.3 L514.6,177.9 L515.6,179.5 L516.6,181.1"/>
<path class="cv" stroke="#848400" stroke-dasharray="9.3 1.3 3.0 1.3 3.0 1.3" stroke-dashoffset="-5.77" d="M67.6,17.5 L68.6,17.5 L69.6,17.5 L70.6,17.5 L71.6,17.5 L72.6,17.5 L73.6,17.5 L74.6,17.5 L75.6,17.5 L76.6,17.5 L77.6,17.5 L78.6,17.5 L79.6,17.5 L80.6,17.5 L81.6,17.5 L82.6,17.5 L83.6,17.5 L84.6,17.5 L85.6,17.5 L86.6,17.5 L87.6,17.5 L88.6,17.5 L89.6,17.5 L90.6,17.5 L91.6,17.5 L92.6,17.5 L93.6,17.5 L94.6,17.5 L95.6,17.5 L96.6,17.5 L97.6,17.5 L98.6,17.5 L99.6,17.5 L100.6,17.5 L101.6,17.5 L102.6,17.5 L103.6,17.5 L104.6,17.5 L105.6,17.5 L106.6,17.5 L107.6,17.5 L108.6,17.5 L109.6,17.5 L110.6,17.5 L111.6,17.5 L112.6,17.5 L113.6,17.5 L114.6,17.5 L115.6,17.5 L116.6,17.5 L117.6,17.5 L118.6,17.5 L119.6,17.5 L120.6,17.5 L121.6,17.5 L122.6,17.5 L123.6,17.5 L124.6,17.5 L125.6,17.5 L126.6,17.5 L127.6,17.5 L128.6,17.5 L129.6,17.5 L130.6,17.5 L131.6,17.5 L132.6,17.5 L133.6,17.5 L134.6,17.5 L135.6,17.5 L136.6,17.5 L137.6,17.5 L138.6,17.5 L139.6,17.5 L140.6,17.5 L141.6,17.5 L142.6,17.5 L143.6,17.5 L144.6,17.5 L145.6,17.5 L146.6,17.5 L147.6,17.5 L148.6,17.5 L149.6,17.5 L150.6,17.5 L151.6,17.5 L152.6,17.5 L153.6,17.5 L154.6,17.5 L155.6,17.5 L156.6,17.5 L157.6,17.5 L158.6,17.5 L159.6,17.5 L160.6,17.5 L161.6,17.5 L162.6,17.5 L163.6,17.5 L164.6,17.5 L165.6,17.5 L166.6,17.5 L167.6,17.5 L168.6,17.5 L169.6,17.5 L170.6,17.5 L171.6,17.5 L172.6,17.6 L173.6,17.6 L174.6,17.6 L175.6,17.6 L176.6,17.6 L177.6,17.6 L178.6,17.6 L179.6,17.6 L180.6,17.6 L181.6,17.6 L182.6,17.6 L183.6,17.6 L184.6,17.6 L185.6,17.6 L186.6,17.6 L187.6,17.6 L188.6,17.6 L189.6,17.6 L190.6,17.6 L191.6,17.6 L192.6,17.6 L193.6,17.6 L194.6,17.6 L195.6,17.6 L196.6,17.6 L197.6,17.6 L198.6,17.6 L199.6,17.6 L200.6,17.6 L201.6,17.6 L202.6,17.6 L203.6,17.6 L204.6,17.6 L205.6,17.6 L206.6,17.6 L207.6,17.6 L208.6,17.6 L209.6,17.6 L210.6,17.6 L211.6,17.6 L212.6,17.6 L213.6,17.6 L214.6,17.6 L215.6,17.7 L216.6,17.7 L217.6,17.7 L218.6,17.7 L219.6,17.7 L220.6,17.7 L221.6,17.7 L222.6,17.7 L223.6,17.7 L224.6,17.7 L225.6,17.7 L226.6,17.7 L227.6,17.7 L228.6,17.7 L229.6,17.7 L230.6,17.7 L231.6,17.7 L232.6,17.7 L233.6,17.7 L234.6,17.7 L235.6,17.8 L236.6,17.8 L237.6,17.8 L238.6,17.8 L239.6,17.8 L240.6,17.8 L241.6,17.8 L242.6,17.8 L243.6,17.8 L244.6,17.8 L245.6,17.8 L246.6,17.8 L247.6,17.8 L248.6,17.8 L249.6,17.9 L250.6,17.9 L251.6,17.9 L252.6,17.9 L253.6,17.9 L254.6,17.9 L255.6,17.9 L256.6,17.9 L257.6,17.9 L258.6,17.9 L259.6,18.0 L260.6,18.0 L261.6,18.0 L262.6,18.0 L263.6,18.0 L264.6,18.0 L265.6,18.0 L266.6,18.0 L267.6,18.1 L268.6,18.1 L269.6,18.1 L270.6,18.1 L271.6,18.1 L272.6,18.1 L273.6,18.2 L274.6,18.2 L275.6,18.2 L276.6,18.2 L277.6,18.2 L278.6,18.2 L279.6,18.3 L280.6,18.3 L281.6,18.3 L282.6,18.3 L283.6,18.3 L284.6,18.4 L285.6,18.4 L286.6,18.4 L287.6,18.4 L288.6,18.5 L289.6,18.5 L290.6,18.5 L291.6,18.5 L292.6,18.6 L293.6,18.6 L294.6,18.6 L295.6,18.6 L296.6,18.7 L297.6,18.7 L298.6,18.7 L299.6,18.8 L300.6,18.8 L301.6,18.8 L302.6,18.9 L303.6,18.9 L304.6,18.9 L305.6,19.0 L306.6,19.0 L307.6,19.0 L308.6,19.1 L309.6,19.1 L310.6,19.1 L311.6,19.2 L312.6,19.2 L313.6,19.3 L314.6,19.3 L315.6,19.4 L316.6,19.4 L317.6,19.5 L318.6,19.5 L319.6,19.6 L320.6,19.6 L321.6,19.7 L322.6,19.7 L323.6,19.8 L324.6,19.8 L325.6,19.9 L326.6,20.0 L327.6,20.0 L328.6,20.1 L329.6,20.1 L330.6,20.2 L331.6,20.3 L332.6,20.3 L333.6,20.4 L334.6,20.5 L335.6,20.6 L336.6,20.6 L337.6,20.7 L338.6,20.8 L339.6,20.9 L340.6,21.0 L341.6,21.0 L342.6,21.1 L343.6,21.2 L344.6,21.3 L345.6,21.4 L346.6,21.5 L347.6,21.6 L348.6,21.7 L349.6,21.8 L350.6,21.9 L351.6,22.0 L352.6,22.1 L353.6,22.2 L354.6,22.4 L355.6,22.5 L356.6,22.6 L357.6,22.7 L358.6,22.9 L359.6,23.0 L360.6,23.1 L361.6,23.2 L362.6,23.4 L363.6,23.5 L364.6,23.7 L365.6,23.8 L366.6,24.0 L367.6,24.1 L368.6,24.3 L369.6,24.4 L370.6,24.6 L371.6,24.8 L372.6,25.0 L373.6,25.1 L374.6,25.3 L375.6,25.5 L376.6,25.7 L377.6,25.9 L378.6,26.1 L379.6,26.3 L380.6,26.5 L381.6,26.7 L382.6,26.9 L383.6,27.1 L384.6,27.3 L385.6,27.6 L386.6,27.8 L387.6,28.0 L388.6,28.3 L389.6,28.5 L390.6,28.8 L391.6,29.0 L392.6,29.3 L393.6,29.6 L394.6,29.8 L395.6,30.1 L396.6,30.4 L397.6,30.7 L398.6,31.0 L399.6,31.3 L400.6,31.6 L401.6,31.9 L402.6,32.2 L403.6,32.6 L404.6,32.9 L405.6,33.2 L406.6,33.6 L407.6,33.9 L408.6,34.3 L409.6,34.6 L410.6,35.0 L411.6,35.4 L412.6,35.7 L413.6,36.1 L414.6,36.5 L415.6,36.9 L416.6,37.3 L417.6,37.8 L418.6,38.2 L419.6,38.6 L420.6,39.0 L421.6,39.5 L422.6,39.9 L423.6,40.4 L424.6,40.9 L425.6,41.3 L426.6,41.8 L427.6,42.3 L428.6,42.8 L429.6,43.3 L430.6,43.8 L431.6,44.3 L432.6,44.8 L433.6,45.4 L434.6,45.9 L435.6,46.4 L436.6,47.0 L437.6,47.6 L438.6,48.1 L439.6,48.7 L440.6,49.3 L441.6,49.9 L442.6,50.5 L443.6,51.1 L444.6,51.7 L445.6,52.3 L446.6,53.0 L447.6,53.6 L448.6,54.2 L449.6,54.9 L450.6,55.6 L451.6,56.2 L452.6,56.9 L453.6,57.6 L454.6,58.3 L455.6,59.0 L456.6,59.7 L457.6,60.4 L458.6,61.1 L459.6,61.8 L460.6,62.6 L461.6,63.3 L462.6,64.1 L463.6,64.8 L464.6,65.6 L465.6,66.4 L466.6,67.1 L467.6,67.9 L468.6,68.7 L469.6,69.5 L470.6,70.3 L471.6,71.1 L472.6,71.9 L473.6,72.8 L474.6,73.6 L475.6,74.4 L476.6,75.3 L477.6,76.1 L478.6,77.0 L479.6,77.9 L480.6,78.7 L481.6,79.6 L482.6,80.5 L483.6,81.4 L484.6,82.3 L485.6,83.2 L486.6,84.1 L487.6,85.0 L488.6,85.9 L489.6,86.8 L490.6,87.8 L491.6,88.7 L492.6,89.7 L493.6,90.6 L494.6,91.5 L495.6,92.5 L496.6,93.5 L497.6,94.4 L498.6,95.4 L499.6,96.4 L500.6,97.4 L501.6,98.3 L502.6,99.3 L503.6,100.3 L504.6,101.3 L505.6,102.3 L506.6,103.3 L507.6,104.3 L508.6,105.4 L509.6,106.4 L510.6,107.4 L511.6,108.4 L512.6,109.5 L513.6,110.5 L514.6,111.5 L515.6,112.6 L516.6,113.6"/>
<path class="cv" stroke="#848400" d="M67.6,17.5H76.5"/>
</g>
<text transform="translate(42.61,26.90) scale(0.89,1)" class="lb" style="font-size:14.6px">10</text><text x="55.80" y="19.00" class="sp">0</text>
<text transform="translate(39.01,56.80) scale(0.89,1)" class="lb" style="font-size:14.6px">10</text><text x="52.20" y="48.90" class="sp">-1</text>
<text transform="translate(39.01,86.70) scale(0.89,1)" class="lb" style="font-size:14.6px">10</text><text x="52.20" y="78.80" class="sp">-2</text>
<text transform="translate(39.01,116.60) scale(0.89,1)" class="lb" style="font-size:14.6px">10</text><text x="52.20" y="108.70" class="sp">-3</text>
<text transform="translate(39.01,146.50) scale(0.89,1)" class="lb" style="font-size:14.6px">10</text><text x="52.20" y="138.60" class="sp">-4</text>
<text transform="translate(39.01,176.40) scale(0.89,1)" class="lb" style="font-size:14.6px">10</text><text x="52.20" y="168.50" class="sp">-5</text>
<text transform="translate(39.01,206.30) scale(0.89,1)" class="lb" style="font-size:14.6px">10</text><text x="52.20" y="198.40" class="sp">-6</text>
<text transform="translate(39.01,236.20) scale(0.89,1)" class="lb" style="font-size:14.6px">10</text><text x="52.20" y="228.30" class="sp">-7</text>
<text transform="translate(39.01,266.10) scale(0.89,1)" class="lb" style="font-size:14.6px">10</text><text x="52.20" y="258.20" class="sp">-8</text>
<text transform="translate(39.01,296.00) scale(0.89,1)" class="lb" style="font-size:14.6px">10</text><text x="52.20" y="288.10" class="sp">-9</text>
<text transform="translate(33.61,325.90) scale(0.89,1)" class="lb" style="font-size:14.6px">10</text><text x="46.80" y="318.00" class="sp">-10</text>
<text transform="translate(57.01,339.70) scale(0.89,1)" class="lb" style="font-size:13.7px">10</text><text x="69.40" y="332.30" class="sp">-1</text>
<text transform="translate(240.67,339.70) scale(0.89,1)" class="lb" style="font-size:13.7px">10</text><text x="253.07" y="332.30" class="sp">0</text>
<text transform="translate(422.04,339.70) scale(0.89,1)" class="lb" style="font-size:13.7px">10</text><text x="434.44" y="332.30" class="sp">1</text>
<!-- legend -->
<path d="M113.2,46.55H157" stroke="#000" stroke-width="2.3" stroke-linecap="round" fill="none"/>
<path d="M111.6,74.0L158.2,74.9" stroke="#0000ff" stroke-width="2.2" stroke-dasharray="11 3" fill="none"/>
<path d="M108.7,105H158.9" stroke="#008000" stroke-width="2.1" stroke-dasharray="11 7.7 6.4 7.7 17.4 0" fill="none"/>
<path d="M110.5,135.9H158.9" stroke="#848400" stroke-width="2.2" stroke-dasharray="11.3 1.5 4.3 1.5 4.3 2" fill="none"/>
<text x="159.6" y="49.8" class="lg">DW; gd=30; m=1keV</text>
<text x="159.7" y="78.7" class="lg">DW; gd=30; m=2keV</text>
<text x="161.0" y="108.0" class="lg" style="font-size:11.6px">BD; gd=100; m=1keV</text>
<text x="158.4" y="139.0" class="lg" style="font-size:11.6px">BD; gd=100; m=2keV</text>
<!-- titles -->
<text x="423.3" y="366" style="font-size:26.6px;font-weight:bold;fill:#000">k (Mpc)<tspan dx="-0.5" dy="-15.4" style="font-size:20.6px">-1</tspan></text>
<g transform="translate(27,75) rotate(-90) scale(1,0.935)">
<text x="0" y="0" style="font-size:28.5px;font-weight:bold;fill:#000">P(k)</text>
<rect x="1.3" y="-21.7" width="11.6" height="1.85" fill="#000"/>
</g>
</g>
</svg>
</body></html>
